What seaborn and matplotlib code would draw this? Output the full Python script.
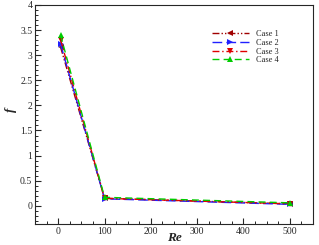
import pandas as pd
import matplotlib.pyplot as plt
import seaborn as sns
from matplotlib.ticker import MultipleLocator

re_vals = [5, 100, 500]
case1 = [3.16, 0.15, 0.04]
case2 = [3.22, 0.14, 0.03]
case3 = [3.31, 0.15, 0.04]
case4 = [3.40, 0.17, 0.06]
cases = ["Case 1", "Case 2", "Case 3", "Case 4"]

rows = []
for name, vals in zip(cases, [case1, case2, case3, case4]):
    for r, v in zip(re_vals, vals):
        rows.append({"Re": r, "f": v, "case": name})
df = pd.DataFrame(rows)

sns.set_style("ticks")
plt.rcParams['font.family'] = ['Liberation Serif', 'DejaVu Serif']

colors = {"Case 1": "#a00000", "Case 2": "#2020ff", "Case 3": "#e00000", "Case 4": "#00cc00"}
mcolors = {"Case 1": "#602040", "Case 2": "#2020ff", "Case 3": "#c00000", "Case 4": "#00cc00"}
dashes = {"Case 1": (5, 1.5, 1, 1.5, 1, 1.5), "Case 2": (7, 3), "Case 3": (5, 2, 1, 2), "Case 4": (5, 3)}
markers = {"Case 1": "<", "Case 2": ">", "Case 3": "v", "Case 4": "^"}

fig, ax = plt.subplots(figsize=(3.19, 2.45), dpi=100)
sns.lineplot(data=df, x="Re", y="f", hue="case", style="case", palette=colors,
             dashes=dashes, markers=markers, linewidth=1, markersize=4,
             markeredgewidth=0, ax=ax)
for line, c in zip(ax.lines, cases):
    line.set_markerfacecolor(mcolors[c])

ax.set_xlim(-50, 550)
ax.set_ylim(-0.36, 4)
ax.xaxis.set_minor_locator(MultipleLocator(25))
ax.yaxis.set_minor_locator(MultipleLocator(0.1))
ax.set_xticks([0, 100, 200, 300, 400, 500])
ax.set_yticks([0, 0.5, 1, 1.5, 2, 2.5, 3, 3.5, 4])
ax.set_yticklabels(["0", "0.5", "1", "1.5", "2", "2.5", "3", "3.5", "4"])
ax.tick_params(which="both", direction="in", labelsize=7, pad=2)
ax.tick_params(which="major", length=4, width=0.8)
ax.tick_params(which="minor", length=2, width=0.7)
for s in ax.spines.values():
    s.set_linewidth(0.8)

ax.set_xlabel("Re", fontsize=9.5, fontweight="bold", fontstyle="italic", va="center")
ax.set_ylabel("f", fontsize=9.5, fontweight="bold", fontstyle="italic", va="center")
ax.xaxis.set_label_coords(0.5, -0.065)
ax.yaxis.set_label_coords(-0.085, 0.52)

handles, labels = ax.get_legend_handles_labels()
ax.legend(handles, labels, loc="upper left", bbox_to_anchor=(0.622, 0.905), frameon=False,
          handlelength=4.4, labelspacing=0.1, handletextpad=0.85, borderpad=0,
          prop={"family": "Liberation Serif", "size": 6})

plt.subplots_adjust(left=0.11, right=0.981, top=0.98, bottom=0.086)
fig.savefig("out.png", dpi=100)
